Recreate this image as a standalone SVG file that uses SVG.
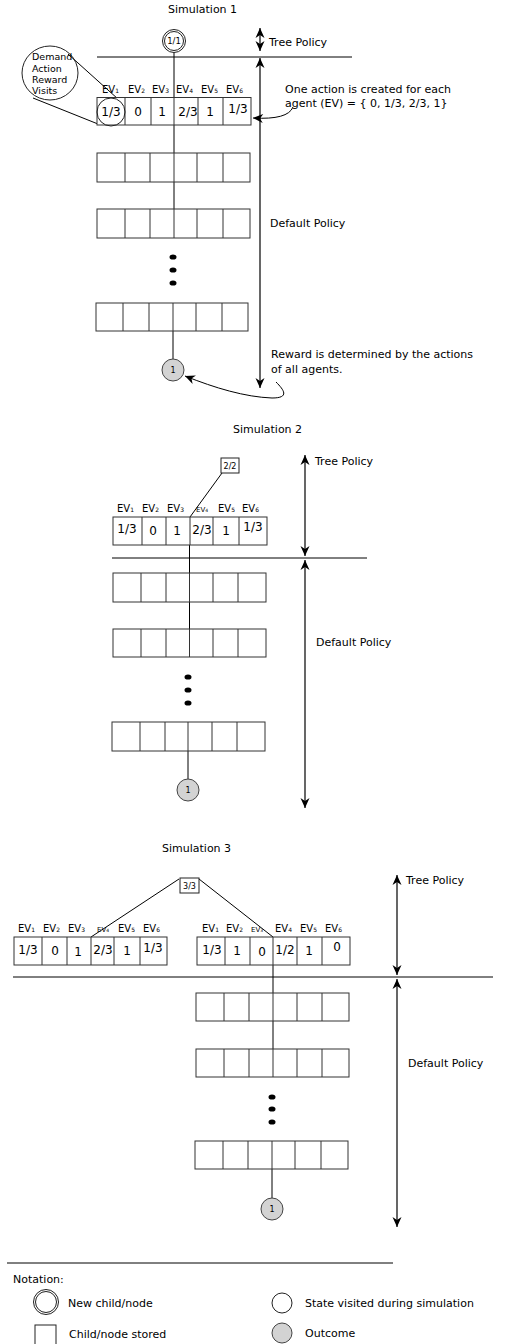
<svg xmlns="http://www.w3.org/2000/svg" width="506" height="1344" viewBox="0 0 506 1344">
<style>
.t{font-family:"DejaVu Sans","Liberation Sans",sans-serif;fill:#000}
.s11{font-size:11px}
.ev{font-size:10px}
.evs{font-size:7px}
.v{font-size:12px;text-anchor:middle}
.ln{stroke:#000;stroke-width:1;fill:none}
.cell{fill:#fff;stroke:#333;stroke-width:1}
.div{stroke:#333;stroke-width:1}
.out{fill:#d3d3d3;stroke:#444;stroke-width:1}
.wc{fill:#fff;stroke:#222;stroke-width:1}
.arr{stroke:#000;stroke-width:1.2;fill:none;marker-start:url(#ah);marker-end:url(#ah)}
</style>
<defs>
<marker id="ah" viewBox="-11 -6 12 12" refX="0" refY="0" markerWidth="12" markerHeight="12" orient="auto-start-reverse" markerUnits="userSpaceOnUse">
<path d="M0,0 L-10,-4.5 L-7,0 L-10,4.5 Z" fill="#000"/>
</marker>
<marker id="ah1" viewBox="-11 -6 12 12" refX="0" refY="0" markerWidth="12" markerHeight="12" orient="auto" markerUnits="userSpaceOnUse">
<path d="M0,0 L-10,-4.5 L-7,0 L-10,4.5 Z" fill="#000"/>
</marker>
</defs>
<rect width="506" height="1344" fill="#fff"/>

<!-- ============ Simulation 1 ============ -->
<text class="t s11" x="168" y="13">Simulation 1</text>
<g id="sim1-connectors">
<line class="ln" x1="97" y1="57" x2="352" y2="57"/>
<line class="ln" x1="174" y1="52.5" x2="174" y2="238"/>
<line class="ln" x1="173" y1="331" x2="173" y2="359"/>
<line class="arr" x1="260" y1="28" x2="260" y2="51"/>
<line class="arr" x1="260" y1="58" x2="260" y2="388"/>
<line class="ln" x1="68" y1="54" x2="118" y2="99"/>
<line class="ln" x1="33" y1="98" x2="98" y2="124"/>
<path class="ln" d="M293 107 Q288 120 253 118" marker-end="url(#ah1)"/>
<path class="ln" d="M276 382 C284 390 290 398 272 398 C245 397 215 388 185 376" marker-end="url(#ah1)"/>
</g>
<g id="s1-root">
<circle class="wc" cx="174" cy="41" r="11.5"/>
<circle class="wc" cx="174" cy="41" r="9.5"/>
<text class="t" x="174" y="44" font-size="8.5" text-anchor="middle">1/1</text>
</g>
<g id="s1-legend">
<ellipse cx="50" cy="73" rx="28" ry="27" fill="none" stroke="#222" stroke-width="1"/>
<text class="t" font-size="9.5" x="32" y="60">Demand</text>
<text class="t" font-size="9.5" x="32" y="72">Action</text>
<text class="t" font-size="9.5" x="32" y="83">Reward</text>
<text class="t" font-size="9.5" x="32" y="94">Visits</text>
</g>
<g id="s1-row1">
<text class="t ev" x="102" y="93">EV<tspan font-size="6">1</tspan></text>
<text class="t ev" x="128" y="93">EV<tspan font-size="6">2</tspan></text>
<text class="t ev" x="152" y="93">EV<tspan font-size="6">3</tspan></text>
<text class="t ev" x="176" y="93">EV<tspan font-size="6">4</tspan></text>
<text class="t ev" x="201" y="93">EV<tspan font-size="6">5</tspan></text>
<text class="t ev" x="226" y="93">EV<tspan font-size="6">6</tspan></text>
<rect class="cell" x="97" y="97.5" width="154" height="27.5"/>
<line class="div" x1="125" y1="97.5" x2="125" y2="125"/>
<line class="div" x1="151" y1="97.5" x2="151" y2="125"/>
<line class="div" x1="174" y1="97.5" x2="174" y2="125"/>
<line class="div" x1="198" y1="97.5" x2="198" y2="125"/>
<line class="div" x1="223" y1="97.5" x2="223" y2="125"/>
<text class="t v" x="111" y="116">1/3</text>
<text class="t v" x="138" y="116">0</text>
<text class="t v" x="162" y="116">1</text>
<text class="t v" x="188" y="116">2/3</text>
<text class="t v" x="210" y="116">1</text>
<text class="t v" x="238" y="113">1/3</text>
<circle cx="111" cy="112" r="14" fill="none" stroke="#222" stroke-width="1"/>
</g>
<g id="s1-row2">
<rect class="cell" x="97" y="153" width="153" height="29"/>
<line class="div" x1="125" y1="153" x2="125" y2="182"/><line class="div" x1="150" y1="153" x2="150" y2="182"/><line class="div" x1="174" y1="153" x2="174" y2="182"/><line class="div" x1="197" y1="153" x2="197" y2="182"/><line class="div" x1="223" y1="153" x2="223" y2="182"/>
</g>
<g id="s1-row3">
<rect class="cell" x="97" y="209" width="153" height="29"/>
<line class="div" x1="125" y1="209" x2="125" y2="238"/><line class="div" x1="150" y1="209" x2="150" y2="238"/><line class="div" x1="174" y1="209" x2="174" y2="238"/><line class="div" x1="197" y1="209" x2="197" y2="238"/><line class="div" x1="223" y1="209" x2="223" y2="238"/>
</g>
<g id="s1-dots">
<ellipse cx="173" cy="257" rx="3.5" ry="2.6"/><ellipse cx="173" cy="270" rx="3.5" ry="2.6"/><ellipse cx="173" cy="283" rx="3.5" ry="2.6"/>
</g>
<g id="s1-row4">
<rect class="cell" x="96" y="303" width="152" height="28"/>
<line class="div" x1="123" y1="303" x2="123" y2="331"/><line class="div" x1="149" y1="303" x2="149" y2="331"/><line class="div" x1="173" y1="303" x2="173" y2="331"/><line class="div" x1="196" y1="303" x2="196" y2="331"/><line class="div" x1="222" y1="303" x2="222" y2="331"/>
</g>
<g id="s1-outcome">
<circle class="out" cx="173" cy="370" r="11"/>
<text class="t" x="173" y="373" font-size="8" text-anchor="middle">1</text>
</g>
<g id="s1-labels">
<text class="t s11" x="269" y="46">Tree Policy</text>
<text class="t s11" x="285" y="93">One action is created for each</text>
<text class="t s11" x="285" y="107">agent (EV) = { 0, 1/3, 2/3, 1}</text>
<text class="t s11" x="270" y="227">Default Policy</text>
<text class="t s11" x="271" y="358">Reward is determined by the actions</text>
<text class="t s11" x="271" y="373">of all agents.</text>
</g>

<!-- ============ Simulation 2 ============ -->
<text class="t s11" x="233" y="433">Simulation 2</text>
<g id="sim2-connectors">
<line class="ln" x1="222" y1="473" x2="190" y2="517"/>
<line class="ln" x1="189.5" y1="517" x2="189.5" y2="657"/>
<line class="ln" x1="188" y1="751" x2="188" y2="779"/>
<line class="ln" x1="112" y1="558" x2="367" y2="558"/>
<line class="arr" x1="305" y1="455" x2="305" y2="556"/>
<line class="arr" x1="305" y1="560" x2="305" y2="808"/>
</g>
<g id="s2-node">
<rect class="wc" x="221" y="458" width="18" height="15"/>
<text class="t" x="230" y="469" font-size="8" text-anchor="middle">2/2</text>
</g>
<g id="s2-row1">
<text class="t ev" x="117" y="512">EV<tspan font-size="6">1</tspan></text>
<text class="t ev" x="142" y="512">EV<tspan font-size="6">2</tspan></text>
<text class="t ev" x="167" y="512">EV<tspan font-size="6">3</tspan></text>
<text class="t evs" x="196" y="512">EV<tspan font-size="4.5">4</tspan></text>
<text class="t ev" x="218" y="512">EV<tspan font-size="6">5</tspan></text>
<text class="t ev" x="242" y="512">EV<tspan font-size="6">6</tspan></text>
<rect class="cell" x="113" y="517" width="154" height="28"/>
<line class="div" x1="142" y1="517" x2="142" y2="545"/><line class="div" x1="166" y1="517" x2="166" y2="545"/><line class="div" x1="190" y1="517" x2="190" y2="545"/><line class="div" x1="213" y1="517" x2="213" y2="545"/><line class="div" x1="239" y1="517" x2="239" y2="545"/>
<text class="t v" x="127" y="533">1/3</text>
<text class="t v" x="153" y="535">0</text>
<text class="t v" x="177" y="535">1</text>
<text class="t v" x="202" y="534">2/3</text>
<text class="t v" x="226" y="535">1</text>
<text class="t v" x="253" y="531">1/3</text>
</g>
<g id="s2-row2">
<rect class="cell" x="113" y="573" width="153" height="29"/>
<line class="div" x1="141" y1="573" x2="141" y2="602"/><line class="div" x1="166" y1="573" x2="166" y2="602"/><line class="div" x1="189.5" y1="573" x2="189.5" y2="602"/><line class="div" x1="213" y1="573" x2="213" y2="602"/><line class="div" x1="238" y1="573" x2="238" y2="602"/>
</g>
<g id="s2-row3">
<rect class="cell" x="113" y="629" width="153" height="28"/>
<line class="div" x1="141" y1="629" x2="141" y2="657"/><line class="div" x1="166" y1="629" x2="166" y2="657"/><line class="div" x1="189.5" y1="629" x2="189.5" y2="657"/><line class="div" x1="213" y1="629" x2="213" y2="657"/><line class="div" x1="238" y1="629" x2="238" y2="657"/>
</g>
<g id="s2-dots">
<ellipse cx="188" cy="677" rx="3.5" ry="2.6"/><ellipse cx="188" cy="690" rx="3.5" ry="2.6"/><ellipse cx="188" cy="703" rx="3.5" ry="2.6"/>
</g>
<g id="s2-row4">
<rect class="cell" x="112" y="722" width="153" height="29"/>
<line class="div" x1="140" y1="722" x2="140" y2="751"/><line class="div" x1="165" y1="722" x2="165" y2="751"/><line class="div" x1="188" y1="722" x2="188" y2="751"/><line class="div" x1="212" y1="722" x2="212" y2="751"/><line class="div" x1="237" y1="722" x2="237" y2="751"/>
</g>
<g id="s2-outcome">
<circle class="out" cx="188" cy="790" r="11"/>
<text class="t" x="188" y="793" font-size="8" text-anchor="middle">1</text>
</g>
<g id="s2-labels">
<text class="t s11" x="315" y="465">Tree Policy</text>
<text class="t s11" x="316" y="646">Default Policy</text>
</g>

<!-- ============ Simulation 3 ============ -->
<text class="t s11" x="162" y="852">Simulation 3</text>
<g id="sim3-connectors">
<line class="ln" x1="179" y1="879" x2="91" y2="937"/>
<line class="ln" x1="199" y1="879" x2="273" y2="937"/>
<line class="ln" x1="273" y1="937" x2="273" y2="1077"/>
<line class="ln" x1="272" y1="1169" x2="272" y2="1198"/>
<line class="ln" x1="13" y1="977" x2="493" y2="977"/>
<line class="arr" x1="397" y1="875" x2="397" y2="975"/>
<line class="arr" x1="397" y1="979" x2="397" y2="1227"/>
</g>
<g id="s3-node">
<rect class="wc" x="180" y="878" width="19" height="15"/>
<text class="t" x="189.5" y="889" font-size="8" text-anchor="middle">3/3</text>
</g>
<g id="s3-left">
<text class="t ev" x="18" y="932">EV<tspan font-size="6">1</tspan></text>
<text class="t ev" x="43" y="932">EV<tspan font-size="6">2</tspan></text>
<text class="t ev" x="68" y="932">EV<tspan font-size="6">3</tspan></text>
<text class="t evs" x="97" y="932">EV<tspan font-size="4.5">4</tspan></text>
<text class="t ev" x="118" y="932">EV<tspan font-size="6">5</tspan></text>
<text class="t ev" x="143" y="932">EV<tspan font-size="6">6</tspan></text>
<rect class="cell" x="14" y="937" width="153" height="28"/>
<line class="div" x1="42" y1="937" x2="42" y2="965"/><line class="div" x1="67" y1="937" x2="67" y2="965"/><line class="div" x1="91" y1="937" x2="91" y2="965"/><line class="div" x1="114" y1="937" x2="114" y2="965"/><line class="div" x1="140" y1="937" x2="140" y2="965"/>
<text class="t v" x="28" y="954">1/3</text>
<text class="t v" x="55" y="955">0</text>
<text class="t v" x="78" y="956">1</text>
<text class="t v" x="103" y="954">2/3</text>
<text class="t v" x="127" y="955">1</text>
<text class="t v" x="153" y="952">1/3</text>
</g>
<g id="s3-right">
<text class="t ev" x="202" y="932">EV<tspan font-size="6">1</tspan></text>
<text class="t ev" x="226" y="932">EV<tspan font-size="6">2</tspan></text>
<text class="t evs" x="251" y="932">EV<tspan font-size="4.5">3</tspan></text>
<text class="t ev" x="275" y="932">EV<tspan font-size="6">4</tspan></text>
<text class="t ev" x="300" y="932">EV<tspan font-size="6">5</tspan></text>
<text class="t ev" x="325" y="932">EV<tspan font-size="6">6</tspan></text>
<rect class="cell" x="197" y="937" width="153" height="28"/>
<line class="div" x1="225" y1="937" x2="225" y2="965"/><line class="div" x1="250" y1="937" x2="250" y2="965"/><line class="div" x1="273" y1="937" x2="273" y2="965"/><line class="div" x1="297" y1="937" x2="297" y2="965"/><line class="div" x1="322" y1="937" x2="322" y2="965"/>
<text class="t v" x="212" y="954">1/3</text>
<text class="t v" x="237" y="955">1</text>
<text class="t v" x="262" y="956">0</text>
<text class="t v" x="285" y="954">1/2</text>
<text class="t v" x="309" y="955">1</text>
<text class="t v" x="337" y="951">0</text>
</g>
<g id="s3-row1">
<rect class="cell" x="196" y="993" width="153" height="28"/>
<line class="div" x1="224" y1="993" x2="224" y2="1021"/><line class="div" x1="249" y1="993" x2="249" y2="1021"/><line class="div" x1="273" y1="993" x2="273" y2="1021"/><line class="div" x1="297" y1="993" x2="297" y2="1021"/><line class="div" x1="322" y1="993" x2="322" y2="1021"/>
</g>
<g id="s3-row2">
<rect class="cell" x="196" y="1049" width="153" height="28"/>
<line class="div" x1="224" y1="1049" x2="224" y2="1077"/><line class="div" x1="249" y1="1049" x2="249" y2="1077"/><line class="div" x1="273" y1="1049" x2="273" y2="1077"/><line class="div" x1="297" y1="1049" x2="297" y2="1077"/><line class="div" x1="322" y1="1049" x2="322" y2="1077"/>
</g>
<g id="s3-dots">
<ellipse cx="272" cy="1097" rx="3.5" ry="2.6"/><ellipse cx="272" cy="1109" rx="3.5" ry="2.6"/><ellipse cx="272" cy="1122" rx="3.5" ry="2.6"/>
</g>
<g id="s3-row3">
<rect class="cell" x="195" y="1141" width="153" height="28"/>
<line class="div" x1="223" y1="1141" x2="223" y2="1169"/><line class="div" x1="248" y1="1141" x2="248" y2="1169"/><line class="div" x1="272" y1="1141" x2="272" y2="1169"/><line class="div" x1="295" y1="1141" x2="295" y2="1169"/><line class="div" x1="321" y1="1141" x2="321" y2="1169"/>
</g>
<g id="s3-outcome">
<circle class="out" cx="272" cy="1209" r="11"/>
<text class="t" x="272" y="1212" font-size="8" text-anchor="middle">1</text>
</g>
<g id="s3-labels">
<text class="t s11" x="406" y="884">Tree Policy</text>
<text class="t s11" x="408" y="1067">Default Policy</text>
</g>

<!-- ============ Notation ============ -->
<g id="notation">
<line class="ln" x1="7" y1="1263" x2="393" y2="1263"/>
<text class="t s11" x="13" y="1283">Notation:</text>
<circle class="wc" cx="46" cy="1302" r="12.5"/>
<circle class="wc" cx="46" cy="1302" r="10.5"/>
<text class="t s11" x="68" y="1307">New child/node</text>
<rect class="wc" x="35" y="1325" width="21" height="25"/>
<text class="t s11" x="69" y="1338">Child/node stored</text>
<circle class="wc" cx="282" cy="1303" r="10"/>
<text class="t s11" x="305" y="1307">State visited during simulation</text>
<circle class="out" cx="282" cy="1333" r="10"/>
<text class="t s11" x="305" y="1337">Outcome</text>
</g>
</svg>
